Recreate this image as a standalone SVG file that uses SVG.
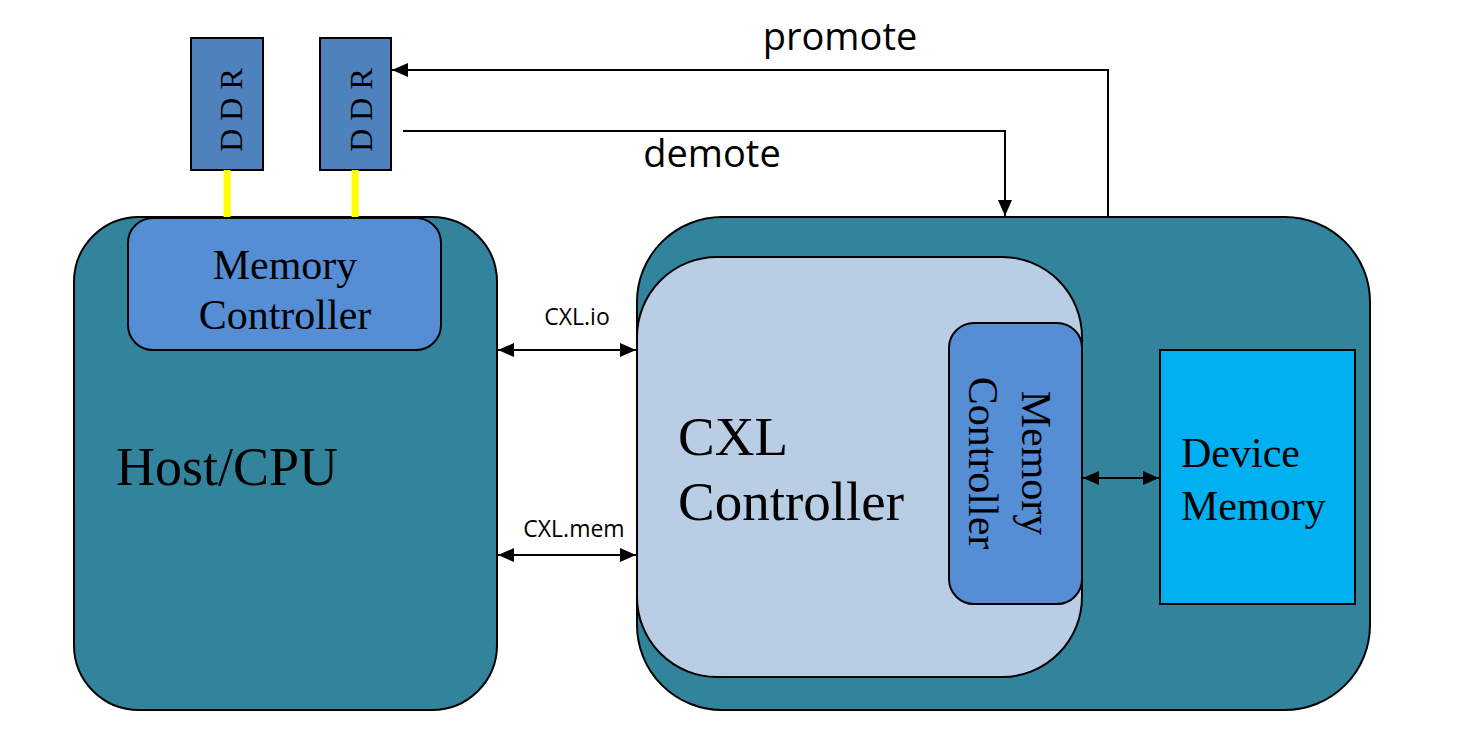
<svg xmlns="http://www.w3.org/2000/svg" width="1465" height="753" viewBox="0 0 1465 753">
<defs>
<marker id="ah" viewBox="0 0 16 14" refX="16" refY="7" markerWidth="16" markerHeight="14" markerUnits="userSpaceOnUse" orient="auto-start-reverse">
<path d="M0,0 L16,7 L0,14 Z" fill="#000"/>
</marker>
</defs>
<style>
.teal{fill:#31849B;stroke:#000;stroke-width:2}
.mc{fill:#558ED5;stroke:#000;stroke-width:2}
.ddr{fill:#4F81BD;stroke:#000;stroke-width:2}
.serif{font-family:"Liberation Serif","Times New Roman",serif;fill:#000}
.sans{font-family:"Open Sans","Noto Sans",sans-serif;fill:#000}
.line{stroke:#000;stroke-width:2;fill:none}
</style>
<rect width="1465" height="753" fill="#fff"/>
<g id="ddr1">
<rect class="ddr" x="191" y="38" width="72" height="132"/>
<text class="serif" font-size="32" text-anchor="middle" transform="translate(242,110) rotate(-90)">D D R</text>
</g>
<g id="ddr2">
<rect class="ddr" x="320" y="38" width="71" height="132"/>
<text class="serif" font-size="32" text-anchor="middle" transform="translate(372,110) rotate(-90)">D D R</text>
</g>
<g id="host">
<rect class="teal" x="74" y="217" width="423" height="493" rx="65" ry="65"/>
<text class="serif" x="116" y="485" font-size="54">Host/CPU</text>
</g>
<g id="host-mc">
<rect class="mc" x="128" y="218" width="313" height="132" rx="25" ry="25"/>
<text class="serif" x="285" y="279" font-size="42" text-anchor="middle">Memory</text>
<text class="serif" x="285" y="329" font-size="42" text-anchor="middle">Controller</text>
</g>
<g id="cxl-device">
<rect class="teal" x="637" y="217" width="733" height="493" rx="85" ry="85"/>
</g>
<g id="cxl-controller">
<rect x="637" y="257" width="445" height="420" rx="80" ry="80" fill="#B9CDE5" stroke="#000" stroke-width="2"/>
<text class="serif" x="678" y="455" font-size="55">CXL</text>
<text class="serif" x="678" y="520" font-size="55">Controller</text>
</g>
<g id="dev-mc">
<rect class="mc" x="949" y="323" width="133" height="281" rx="25" ry="25"/>
<text class="serif" font-size="42" text-anchor="middle" transform="translate(1022,463) rotate(90)">Memory</text>
<text class="serif" font-size="42" text-anchor="middle" transform="translate(969,463) rotate(90)">Controller</text>
</g>
<g id="device-memory">
<rect x="1160" y="350" width="195" height="254" fill="#00B0F0" stroke="#000" stroke-width="2"/>
<text class="serif" x="1181" y="467" font-size="42">Device</text>
<text class="serif" x="1181" y="520" font-size="42">Memory</text>
</g>
<g id="connectors">
<line x1="227" y1="170" x2="227" y2="217" stroke="#FFFF00" stroke-width="7"/>
<line x1="355" y1="170" x2="355" y2="217" stroke="#FFFF00" stroke-width="7"/>
<line class="line" x1="498" y1="350" x2="636" y2="350" marker-start="url(#ah)" marker-end="url(#ah)"/>
<line class="line" x1="498" y1="555" x2="636" y2="555" marker-start="url(#ah)" marker-end="url(#ah)"/>
<line class="line" x1="1083" y1="478" x2="1159" y2="478" marker-start="url(#ah)" marker-end="url(#ah)"/>
<polyline class="line" points="1108,216 1108,70 392,70" marker-end="url(#ah)"/>
<polyline class="line" points="403,131 1005,131 1005,216" marker-end="url(#ah)"/>
<text class="sans" x="577" y="325" font-size="23" text-anchor="middle">CXL.io</text>
<text class="sans" x="574" y="537" font-size="23" text-anchor="middle">CXL.mem</text>
<text class="sans" x="840" y="50" font-size="38" text-anchor="middle">promote</text>
<text class="sans" x="712" y="167" font-size="38" text-anchor="middle">demote</text>
</g>
</svg>
